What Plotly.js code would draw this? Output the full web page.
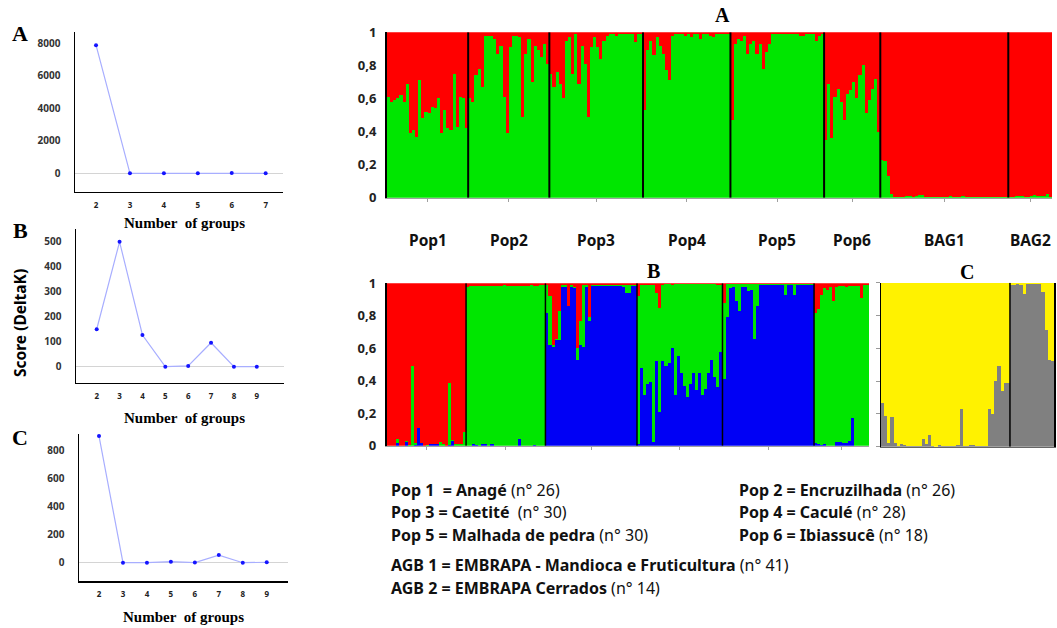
<!DOCTYPE html>
<html><head><meta charset="utf-8">
<script src="https://cdn.plot.ly/plotly-3.0.1.min.js"></script>
<style>html,body{margin:0;padding:0;background:#fff}#chart{width:1057px;height:628px}</style>
</head><body><div id="chart"></div>
<script>
// ---------- DeltaK panels ----------
const kA = [2,3,4,5,6,7];
const deltaKA = [7880, 2, 3, 2, 20, 1];
const kB = [2,3,4,5,6,7,8,9];
const deltaKB = [150, 500, 127, 0, 3, 96, 0, 0];
const kC = [2,3,4,5,6,7,8,9];
const deltaKC = [899, 0, 0, 7, 1, 54, 0, 3];
const yTicksA = [0,2000,4000,6000,8000];
const yTicksB = [0,100,200,300,400,500];
const yTicksC = [0,200,400,600,800];

// ---------- STRUCTURE tick labels ----------
const qTickVals = [0,0.2,0.4,0.6,0.8,1];
const qTickText = ['0','0,2','0,4','0,6','0,8','1'];

// ---------- STRUCTURE A (K=2): green membership ----------
const groupsA = ['Pop1','Pop2','Pop3','Pop4','Pop5','Pop6','BAG1','BAG2'];
const greenA_Pop1 = [0.61,0.58,0.59,0.60,0.62,0.58,0.69,0.39,0.41,0.37,0.71,0.48,0.52,0.51,0.55,0.54,0.60,0.39,0.53,0.42,0.41,0.75,0.43,0.61,0.60,0.42];
const greenA_Pop2 = [0.60,0.58,0.74,0.78,0.67,0.98,0.98,0.98,0.96,0.87,0.92,0.61,0.39,0.91,0.98,0.98,0.97,0.49,0.87,0.96,0.70,0.92,0.89,0.85,0.93,0.81];
const greenA_Pop3 = [0.75,0.67,0.76,0.69,0.60,0.95,0.97,0.75,0.99,0.69,0.92,0.81,0.49,0.91,0.97,0.91,0.84,0.95,0.98,0.99,0.99,0.98,0.99,0.99,0.99,0.99,0.99,0.94,0.99,0.99];
const greenA_Pop4 = [0.53,0.89,0.95,0.86,0.97,0.92,0.87,0.77,0.71,0.98,0.99,0.99,0.99,0.98,0.99,0.97,0.99,0.99,0.96,0.99,0.99,0.98,0.97,0.99,0.99,0.99,0.99,0.99];
const greenA_Pop5 = [0.47,0.93,0.96,0.95,0.98,0.87,0.93,0.95,0.87,0.93,0.78,0.88,0.93,0.99,0.99,0.99,0.99,0.99,0.99,0.99,0.99,0.99,0.98,0.98,0.99,0.99,0.99,0.95,0.98,0.99];
const greenA_Pop6 = [0.35,0.69,0.36,0.61,0.66,0.58,0.47,0.63,0.65,0.70,0.60,0.74,0.80,0.51,0.59,0.66,0.72,0.40];
const greenA_BAG1 = [0.23,0.22,0.13,0.02,0.005,0.005,0.005,0.005,0.01,0.01,0.005,0.01,0.015,0.015,0.005,0.005,0.005,0.005,0.005,0.005,0.005,0.005,0.01,0.005,0.005,0.005,0.01,0.005,0.005,0.005,0.005,0.005,0.005,0.005,0.005,0.005,0.005,0.005,0.005,0.005,0.005];
const greenA_BAG2 = [0.005,0.005,0.01,0.01,0.01,0.005,0.005,0.01,0.015,0.01,0.01,0.01,0.02,0.005];

// ---------- STRUCTURE B (K=3): blue and green membership ----------
const groupsB = ['Pop1','Pop2','Pop3','Pop4','Pop5','Pop6'];
const blueB_Pop1 = [0,0,0,0.015,0,0,0.02,0,0,0.005,0.107,0.015,0,0,0.01,0.01,0.01,0,0,0,0.005,0.03,0,0,0,0];
const greenB_Pop1 = [0,0,0,0.025,0,0,0.01,0.005,0.49,0.01,0,0,0,0.005,0,0,0,0.02,0.01,0,0.38,0.005,0.01,0.01,0.01,0.086];
const blueB_Pop2 = [0,0,0.01,0.005,0,0.01,0.01,0,0.01,0,0,0,0,0,0,0,0,0.04,0,0,0,0,0.005,0,0,0];
const greenB_Pop2 = [0.98,0.985,0.975,0.98,0.985,0.975,0.975,0.985,0.975,0.985,0.985,0.985,0.99,0.985,0.985,0.985,0.985,0.945,0.985,0.985,0.985,0.99,0.98,0.985,0.99,0.99];
const blueB_Pop3 = [0.82,0.62,0.61,0.65,0.65,0.98,0.98,0.86,0.98,0.97,0.53,0.62,0.61,0.98,0.77,0.985,0.985,0.985,0.985,0.985,0.985,0.985,0.985,0.985,0.985,0.98,0.94,0.94,0.985,0.985];
const greenB_Pop3 = [0.17,0.30,0.01,0.01,0.18,0.01,0.01,0.0,0.01,0.01,0.07,0.15,0.38,0.01,0.02,0.005,0.005,0.005,0.005,0.005,0.005,0.005,0.005,0.005,0.005,0.01,0.05,0.05,0.005,0.005];
const blueB_Pop4 = [0.01,0.48,0.31,0.38,0.39,0.02,0.52,0.21,0.52,0.49,0.51,0.60,0.31,0.55,0.45,0.37,0.30,0.38,0.45,0.34,0.45,0.31,0.35,0.45,0.53,0.42,0.36,0.58];
const greenB_Pop4 = [0.91,0.51,0.68,0.61,0.60,0.97,0.42,0.64,0.47,0.505,0.485,0.39,0.685,0.445,0.545,0.625,0.695,0.615,0.545,0.655,0.545,0.685,0.645,0.545,0.465,0.575,0.63,0.41];
const blueB_Pop5 = [0.41,0.79,0.97,0.98,0.89,0.83,0.98,0.98,0.95,0.96,0.66,0.86,0.99,0.99,0.99,0.99,0.99,0.99,0.99,0.99,0.93,0.99,0.99,0.93,0.99,0.99,0.99,0.99,0.99,0.99];
const greenB_Pop5 = [0.47,0.205,0.025,0.015,0.105,0.165,0.015,0.015,0.045,0.035,0.335,0.135,0.005,0.005,0.005,0.005,0.005,0.005,0.005,0.005,0.065,0.005,0.005,0.065,0.005,0.005,0.005,0.005,0.005,0.005];
const blueB_Pop6 = [0.015,0.01,0.005,0.01,0,0,0,0.025,0.02,0.015,0.015,0.03,0.17,0,0,0,0,0];
const greenB_Pop6 = [0.805,0.83,0.925,0.96,0.96,0.98,0.89,0.955,0.965,0.97,0.965,0.955,0.815,0.985,0.985,0.91,0.99,0.99];

// ---------- STRUCTURE C (K=2, germplasm banks): grey membership ----------
const groupsC = ['BAG1','BAG2'];
const greyC_BAG1 = [0.265,0.19,0.02,0.18,0.02,0.005,0.015,0.01,0.005,0.003,0.003,0.003,0.003,0.047,0.015,0.07,0.005,0,0.012,0.003,0.003,0.003,0.003,0.003,0.01,0.23,0.005,0.003,0.008,0.01,0.005,0.005,0.002,0.004,0.23,0.2,0.4,0.49,0.34,0.39,0.39];
const greyC_BAG2 = [0.985,0.985,0.99,0.985,0.93,0.99,0.99,0.99,0.99,0.99,0.945,0.71,0.53,0.52];

// ---------- legend text ----------
const legendLeft = ['<b>Pop 1  = Anagé</b> (n° 26)','<b>Pop 3 = Caetité</b>  (n° 30)','<b>Pop 5 = Malhada de pedra</b> (n° 30)'];
const legendRight = ['<b>Pop 2 = Encruzilhada</b> (n° 26)','<b>Pop 4 = Caculé</b> (n° 28)','<b>Pop 6 = Ibiassucê</b> (n° 18)'];
const legendBanks = ['<b>AGB 1 = EMBRAPA - Mandioca e Fruticultura</b> (n° 41)','<b>AGB 2 = EMBRAPA Cerrados</b> (n° 14)'];

// =====================================================================
const W = 1057, H = 628;
const fx = p => p / W, fy = p => 1 - p / H;
const RED='#ff0000', GREEN='#00e600', BLUE='#0000f5', YELLOW='#fff200', GREY='#808080';

const greenA = [].concat(greenA_Pop1,greenA_Pop2,greenA_Pop3,greenA_Pop4,greenA_Pop5,greenA_Pop6,greenA_BAG1,greenA_BAG2);
const sizesA = [greenA_Pop1,greenA_Pop2,greenA_Pop3,greenA_Pop4,greenA_Pop5,greenA_Pop6,greenA_BAG1,greenA_BAG2].map(a=>a.length);
const blueB = [].concat(blueB_Pop1,blueB_Pop2,blueB_Pop3,blueB_Pop4,blueB_Pop5,blueB_Pop6);
const greenB = [].concat(greenB_Pop1,greenB_Pop2,greenB_Pop3,greenB_Pop4,greenB_Pop5,greenB_Pop6);
const sizesB = [blueB_Pop1,blueB_Pop2,blueB_Pop3,blueB_Pop4,blueB_Pop5,blueB_Pop6].map(a=>a.length);
const greyC = [].concat(greyC_BAG1, greyC_BAG2);
const sizesC = [greyC_BAG1.length, greyC_BAG2.length];

const idx = n => Array.from({length:n},(_,i)=>i);
const redA = greenA.map(v=>1-v);
const redB = blueB.map((b,i)=>Math.max(0,1-b-greenB[i]));
const yellowC = greyC.map(v=>1-v);

function bounds(sizes){ const b=[]; let c=0; sizes.forEach(s=>{b.push([c,c+s]); c+=s;}); return b; }
const bA = bounds(sizesA), bB = bounds(sizesB), bC = bounds(sizesC);

const lineStyle = {color:'#a8aeff', width:1.2};
const mk = {color:'#1414ff', size:4};
function bar(x,y,color,xa,ya){ return {type:'bar',x:x,y:y,xaxis:xa,yaxis:ya,marker:{color:color,line:{width:0}},hoverinfo:'skip',showlegend:false}; }

const traces = [
  {type:'scatter',mode:'lines+markers',x:kA,y:deltaKA,xaxis:'x',yaxis:'y',line:lineStyle,marker:mk,showlegend:false},
  {type:'scatter',mode:'lines+markers',x:kB,y:deltaKB,xaxis:'x2',yaxis:'y2',line:lineStyle,marker:mk,showlegend:false},
  {type:'scatter',mode:'lines+markers',x:kC,y:deltaKC,xaxis:'x3',yaxis:'y3',line:lineStyle,marker:mk,showlegend:false},
  bar(idx(greenA.length),greenA,GREEN,'x4','y4'),
  bar(idx(greenA.length),redA,RED,'x4','y4'),
  bar(idx(blueB.length),blueB,BLUE,'x5','y5'),
  bar(idx(blueB.length),greenB,GREEN,'x5','y5'),
  bar(idx(blueB.length),redB,RED,'x5','y5'),
  bar(idx(greyC.length),greyC,GREY,'x6','y6'),
  bar(idx(greyC.length),yellowC,YELLOW,'x6','y6')
];

const tfY = {family:'Noto Sans', size:10, weight:'bold', color:'#333'};
const tfX = {family:'Noto Sans', size:8, weight:'bold', color:'#222'};
function lx(dom, rng, anchor, vals){ return {domain:dom, range:rng, anchor:anchor, showline:true, linecolor:'#000', linewidth:1.5, showgrid:false, zeroline:false, tickvals:vals, ticks:'', tickfont:tfX, ticklabelstandoff:5, fixedrange:true}; }
function ly(dom, rng, anchor, vals){ return {domain:dom, range:rng, anchor:anchor, showline:true, linecolor:'#000', linewidth:1.5, showgrid:false, zeroline:true, zerolinecolor:'#d4d4d4', zerolinewidth:1, tickvals:vals, ticks:'', tickfont:tfY, ticklabelstandoff:11, fixedrange:true}; }
const qtf = {family:'Noto Sans', size:13, weight:'bold', color:'#222'};
function sx(dom, n, anchor, b){ return {domain:dom, range:[-0.5,n-0.5], anchor:anchor, showline:true, linecolor:'#a0a0a0', linewidth:1.5, showgrid:false, zeroline:false, tickvals:b.map(v=>(v[0]+v[1]-1)/2), showticklabels:false, ticks:'outside', ticklen:3, tickcolor:'#a0a0a0', fixedrange:true}; }
function sy(dom, anchor, labels){ return {domain:dom, range:[0,1], anchor:anchor, showline:true, linecolor:'#000', linewidth:2, showgrid:false, zeroline:false, tickvals:qTickVals, ticktext:qTickText, showticklabels:labels, ticks: labels?'':'outside', ticklen:4, tickcolor:'#999', tickfont:qtf, ticklabelstandoff:6, fixedrange:true}; }

const layout = {
  width:W, height:H, margin:{l:0,r:0,t:0,b:0}, paper_bgcolor:'#fff', plot_bgcolor:'rgba(0,0,0,0)',
  barmode:'stack', bargap:0, showlegend:false,
  xaxis: lx([fx(75),fx(283.3)],[1.38,7.52],'y',kA),
  yaxis: ly([fy(191.7),fy(31.7)],[-1130,8710],'x',yTicksA),
  xaxis2: lx([fx(76),fx(284)],[1.095,10.19],'y2',kB),
  yaxis2: ly([fy(382.7),fy(229.3)],[-64,550],'x2',yTicksB),
  xaxis3: lx([fx(79),fx(288.3)],[1.165,9.9],'y3',kC),
  yaxis3: ly([fy(581),fy(434)],[-130,914],'x3',yTicksC),
  xaxis4: sx([fx(387),fx(1052)],greenA.length,'y4',bA),
  yaxis4: sy([fy(197.7),fy(32.3)],'x4',true),
  xaxis5: sx([fx(386.7),fx(869)],blueB.length,'y5',bB),
  yaxis5: sy([fy(445.7),fy(283.3)],'x5',true),
  xaxis6: Object.assign(sx([fx(881),fx(1054)],greyC.length,'y6',bC),{ticks:'',linecolor:'#666',linewidth:1}),
  yaxis6: Object.assign(sy([fy(446.7),fy(282.7)],'x6',false),{mirror:true,linewidth:1.5}),
  shapes:[], annotations:[]
};

// separators between groups
function seps(b, xa, ya, w){ b.slice(0,-1).forEach(v=>layout.shapes.push({type:'line',xref:xa,yref:ya,x0:v[1]-0.5,x1:v[1]-0.5,y0:0,y1:1,line:{color:'#000',width:w}})); }
seps(bA,'x4','y4',2); seps(bB,'x5','y5',1.5); seps(bC,'x6','y6',1.5);

const serif = (s)=>({family:'Liberation Serif', size:s, weight:'bold', color:'#000'});
function ann(text,x,y,font,extra){ layout.annotations.push(Object.assign({text:text,x:fx(x),y:fy(y),xref:'paper',yref:'paper',showarrow:false,font:font,xanchor:'center',yanchor:'middle'},extra||{})); }

// panel letters
ann('A',20,33,serif(22)); ann('B',20,230,serif(22)); ann('C',20,437,serif(22));
ann('A',722,15,serif(20)); ann('B',653,271,serif(20)); ann('C',967,272,serif(20));
// x titles
const nog = 'Number\u00a0 of groups';
ann(nog,184,223,serif(15)); ann(nog,184,418,serif(15)); ann(nog,183,617,serif(15));
ann('<b>Score (DeltaK)</b>',20,323,{family:'Noto Sans',size:15.5,color:'#000'},{textangle:-90});
// population labels under structure A
groupsA.forEach((g,i)=>layout.annotations.push({text:'<b>'+g+'</b>',x:(bA[i][0]+bA[i][1]-1)/2,y:fy(240),xref:'x4',yref:'paper',showarrow:false,font:{family:'Noto Sans',size:15.5,color:'#111'},xanchor:'center',yanchor:'middle'}));
// legend
const lf = {family:'Noto Sans',size:16,color:'#111'};
legendLeft.forEach((t,i)=>ann(t,389,[490,512,535][i],lf,{xanchor:'left'}));
legendRight.forEach((t,i)=>ann(t,737,[490,512,535][i],lf,{xanchor:'left'}));
legendBanks.forEach((t,i)=>ann(t,389,[565,588][i],lf,{xanchor:'left'}));

Plotly.newPlot('chart', traces, layout, {staticPlot:true, displayModeBar:false});
</script></body></html>
